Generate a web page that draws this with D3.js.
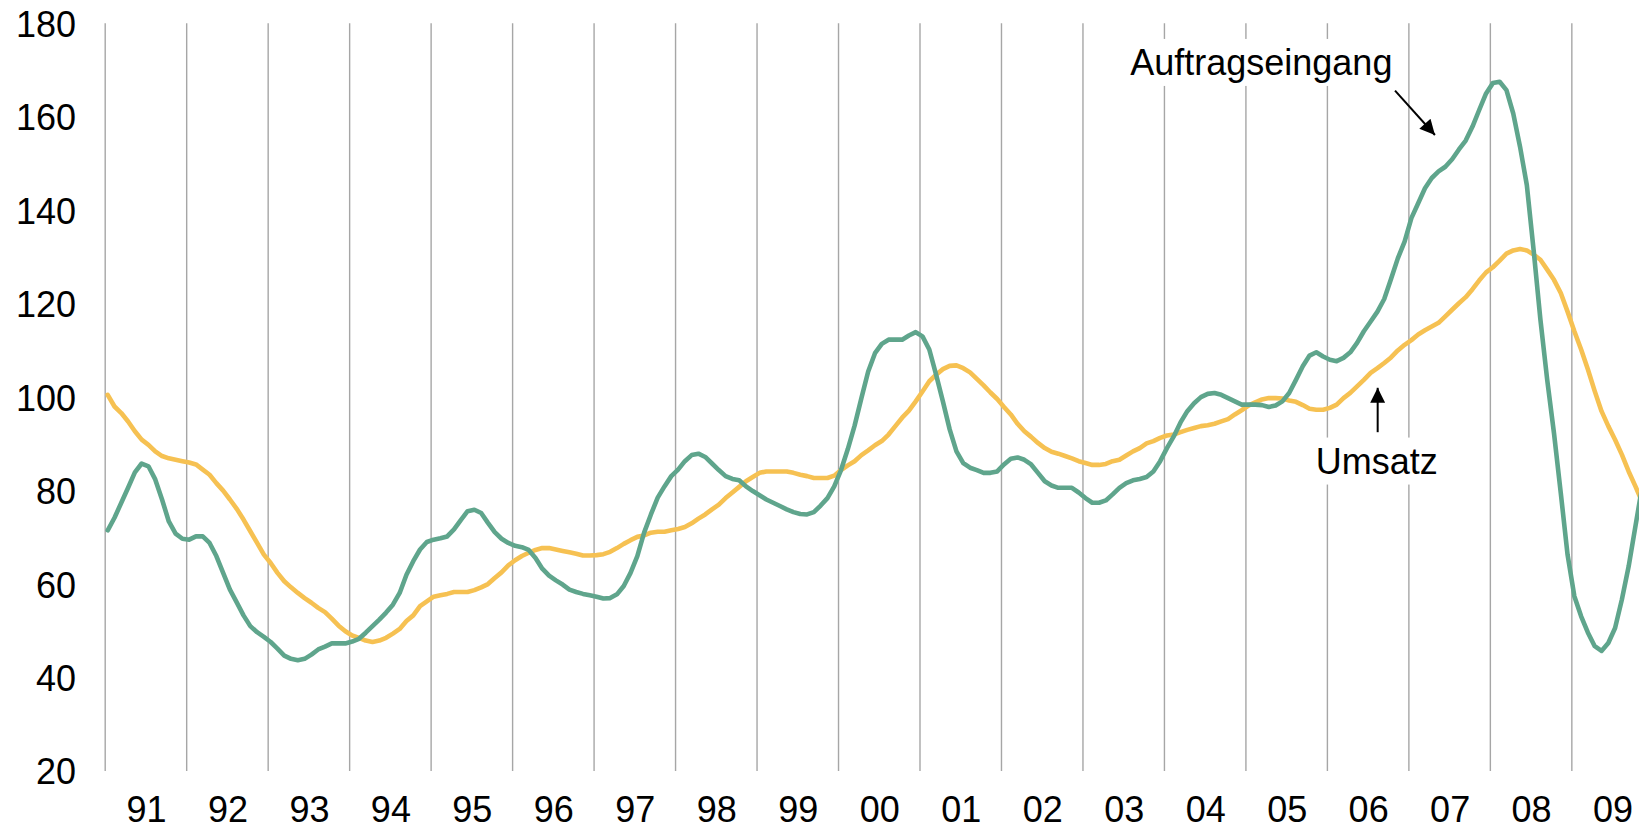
<!DOCTYPE html>
<html>
<head>
<meta charset="utf-8">
<script src="https://cdn.jsdelivr.net/npm/d3@7/dist/d3.min.js"></script>
<style>
  html, body { margin: 0; padding: 0; background: #fff; overflow: hidden; }
  svg { display: block; font-family: "Liberation Sans", Arial, sans-serif; }
</style>
</head>
<body>
<svg id="chart" width="1639" height="830"></svg>
<script>
// ---- data (monthly, Jan 1991 onwards) ----
const startYear = 1991;
const years = d3.range(1991, 2010);               // 91 .. 09
const yTicks = [20, 40, 60, 80, 100, 120, 140, 160, 180];

const umsatz = [
  100.5, 98.0, 96.6, 94.8, 92.7, 90.9, 89.8, 88.4, 87.4, 86.9, 86.6, 86.3,
  86.0, 85.6, 84.5, 83.4, 81.6, 80.0, 78.1, 76.1, 73.8, 71.3, 68.8, 66.3,
  64.5, 62.4, 60.6, 59.3, 58.1, 57.0, 56.0, 54.9, 54.0, 52.6, 51.1, 49.9,
  49.0, 48.5, 47.9, 47.6, 47.9, 48.5, 49.4, 50.4, 52.1, 53.3, 55.3, 56.3,
  57.3, 57.6, 57.9, 58.3, 58.3, 58.3, 58.7, 59.3, 60.0, 61.3, 62.5, 64.0,
  65.1, 66.0, 66.7, 67.3, 67.7, 67.7, 67.4, 67.1, 66.8, 66.5, 66.1, 66.1,
  66.2, 66.4, 66.9, 67.7, 68.6, 69.4, 70.1, 70.4, 71.0, 71.2, 71.2, 71.5,
  71.8, 72.2, 73.0, 74.0, 74.9, 76.0, 77.0, 78.4, 79.6, 80.8, 82.0, 82.9,
  83.8, 84.1, 84.1, 84.1, 84.1, 83.8, 83.4, 83.1, 82.7, 82.7, 82.7, 83.2,
  84.4, 85.4, 86.3, 87.6, 88.6, 89.7, 90.6, 92.0, 93.8, 95.6, 97.1, 99.1,
  101.2, 103.4, 104.8, 106.0, 106.7, 106.8, 106.2, 105.3, 103.9, 102.5, 101.0, 99.6,
  97.9, 96.3, 94.3, 92.7, 91.5, 90.2, 89.1, 88.3, 87.9, 87.4, 86.9, 86.3,
  85.9, 85.5, 85.5, 85.7, 86.3, 86.6, 87.5, 88.4, 89.1, 90.1, 90.6, 91.3,
  91.8, 92.0, 92.5, 93.0, 93.4, 93.8, 94.0, 94.3, 94.8, 95.3, 96.3, 97.2,
  98.2, 98.9, 99.5, 99.8, 99.8, 99.7, 99.3, 99.0, 98.3, 97.5, 97.3, 97.3,
  97.7, 98.4, 99.8, 100.9, 102.3, 103.7, 105.2, 106.2, 107.3, 108.5, 110.0, 111.2,
  112.2, 113.4, 114.3, 115.1, 115.9, 117.3, 118.7, 120.1, 121.4, 123.1, 125.0, 126.7,
  127.8, 129.2, 130.7, 131.4, 131.7, 131.4, 130.5, 129.4, 127.3, 125.1, 122.3, 118.3,
  114.1, 110.2, 105.9, 101.3, 97.0, 93.8, 90.9, 87.7, 84.1, 80.9, 77.5
];

const auftragseingang = [
  71.5, 74.2, 77.4, 80.6, 83.9, 85.8, 85.2, 82.4, 78.1, 73.4, 70.8, 69.7,
  69.5, 70.2, 70.2, 68.8, 66.0, 62.4, 58.8, 56.1, 53.3, 51.0, 49.7, 48.7,
  47.6, 46.2, 44.7, 44.0, 43.7, 44.0, 44.9, 46.0, 46.6, 47.3, 47.3, 47.3,
  47.7, 48.3, 49.6, 51.0, 52.4, 53.9, 55.6, 58.1, 62.0, 64.9, 67.4, 69.0,
  69.5, 69.8, 70.2, 71.7, 73.7, 75.6, 75.9, 75.2, 73.1, 71.1, 69.7, 68.8,
  68.2, 67.9, 67.3, 65.6, 63.3, 61.8, 60.8, 59.9, 58.8, 58.3, 57.9, 57.6,
  57.3, 56.9, 57.0, 57.8, 59.6, 62.4, 66.0, 71.0, 74.9, 78.5, 80.9, 83.1,
  84.5, 86.3, 87.6, 87.9, 87.2, 85.8, 84.4, 83.1, 82.5, 82.2, 80.9, 79.9,
  79.0, 78.1, 77.4, 76.7, 76.0, 75.4, 75.0, 74.9, 75.4, 76.8, 78.4, 80.9,
  84.4, 88.9, 93.9, 99.8, 105.5, 109.4, 111.4, 112.3, 112.3, 112.3, 113.2, 113.9,
  113.0, 110.2, 104.8, 99.1, 93.1, 88.4, 85.9, 84.9, 84.4, 83.8, 83.8, 84.1,
  85.6, 86.8, 87.1, 86.6, 85.6, 83.8, 82.0, 81.1, 80.6, 80.6, 80.6, 79.6,
  78.4, 77.4, 77.4, 77.9, 79.2, 80.6, 81.6, 82.2, 82.5, 82.9, 84.1, 86.3,
  89.1, 91.6, 94.6, 97.0, 98.7, 100.0, 100.7, 100.9, 100.5, 99.8, 99.1, 98.4,
  98.4, 98.4, 98.3, 97.9, 98.2, 99.1, 100.9, 103.7, 106.6, 108.9, 109.6, 108.7,
  108.0, 107.7, 108.4, 109.6, 111.6, 114.1, 116.2, 118.3, 121.0, 125.3, 129.7, 133.3,
  138.3, 141.5, 144.7, 146.9, 148.3, 149.3, 150.9, 153.0, 154.9, 157.9, 161.5, 165.0,
  167.2, 167.5, 165.7, 160.7, 153.6, 145.4, 131.5, 116.6, 103.7, 92.3, 79.5, 66.3,
  57.4, 53.1, 49.6, 46.7, 45.7, 47.4, 50.6, 56.7, 63.8, 72.4, 81.0
];

// annotations in data coordinates [year, value]
const annAuftrag = { text: "Auftragseingang", at: [2003.58, 168.95], from: [2006.83, 165.6], to: [2007.32, 156.1] };
const annUmsatz  = { text: "Umsatz",          at: [2005.856, 83.65], from: [2006.617, 92.5], to: [2006.617, 102.0] };

// ---- drawing ----
const svg = d3.select("#chart");
const FONT = 36;
const green = "#5fa58c";
const yellow = "#f6c152";

const x = d3.scaleLinear().domain([1991, 2010]).range([105.2, 105.2 + 19 * 81.48]);
const y = d3.scaleLinear().domain([20, 180]).range([771, 23.3]);
const monthPos = i => x(startYear + (i + 0.37) / 12);

// vertical gridlines at each year start
svg.append("g").selectAll("line").data(years).join("line")
  .attr("x1", d => x(d)).attr("x2", d => x(d))
  .attr("y1", y(180)).attr("y2", y(20))
  .attr("stroke", "#a6a6a6").attr("stroke-width", 1.4);

// y axis labels
const yAxis = d3.axisLeft(y).tickValues(yTicks).tickSize(0).tickPadding(0);
const gy = svg.append("g").attr("transform", "translate(76,0)").call(yAxis);
gy.select(".domain").remove();
gy.selectAll("text").attr("font-size", FONT).attr("font-family", "Liberation Sans, Arial, sans-serif")
  .attr("fill", "#000").attr("dy", "0.36em");

// x axis labels at year midpoints
const xAxis = d3.axisBottom(x).tickValues(years.map(d => d + 0.5)).tickSize(0).tickPadding(25.4)
  .tickFormat(d => d3.format("02d")(Math.floor(d) % 100));
const gx = svg.append("g").attr("transform", `translate(0,${y(20)})`).call(xAxis);
gx.select(".domain").remove();
gx.selectAll("text").attr("font-size", FONT).attr("font-family", "Liberation Sans, Arial, sans-serif")
  .attr("fill", "#000");

// lines
const line = d3.line().x((d, i) => monthPos(i)).y(d => y(d)).curve(d3.curveLinear);
svg.append("path").datum(umsatz).attr("d", line)
  .attr("fill", "none").attr("stroke", yellow).attr("stroke-width", 4.6)
  .attr("stroke-linejoin", "round").attr("stroke-linecap", "round");
svg.append("path").datum(auftragseingang).attr("d", line)
  .attr("fill", "none").attr("stroke", green).attr("stroke-width", 4.6)
  .attr("stroke-linejoin", "round").attr("stroke-linecap", "round");

// arrow marker
svg.append("defs").append("marker")
  .attr("id", "arrow").attr("viewBox", "0 0 10 10").attr("refX", 10).attr("refY", 5)
  .attr("markerWidth", 17).attr("markerHeight", 15).attr("markerUnits", "userSpaceOnUse")
  .attr("orient", "auto")
  .append("path").attr("d", "M0,0 L10,5 L0,10 z").attr("fill", "#000");

function annotate(a) {
  const g = svg.append("g");
  const t = g.append("text")
    .attr("x", x(a.at[0])).attr("y", y(a.at[1]))
    .attr("font-size", FONT).attr("fill", "#000")
    .text(a.text);
  const bb = t.node().getBBox();
  g.insert("rect", "text")
    .attr("x", bb.x - 12).attr("y", bb.y - 3)
    .attr("width", bb.width + 26).attr("height", bb.height + 6)
    .attr("fill", "#fff");
  g.append("line")
    .attr("x1", x(a.from[0])).attr("y1", y(a.from[1]))
    .attr("x2", x(a.to[0])).attr("y2", y(a.to[1]))
    .attr("stroke", "#000").attr("stroke-width", 2)
    .attr("marker-end", "url(#arrow)");
}
annotate(annAuftrag);
annotate(annUmsatz);
</script>
</body>
</html>
